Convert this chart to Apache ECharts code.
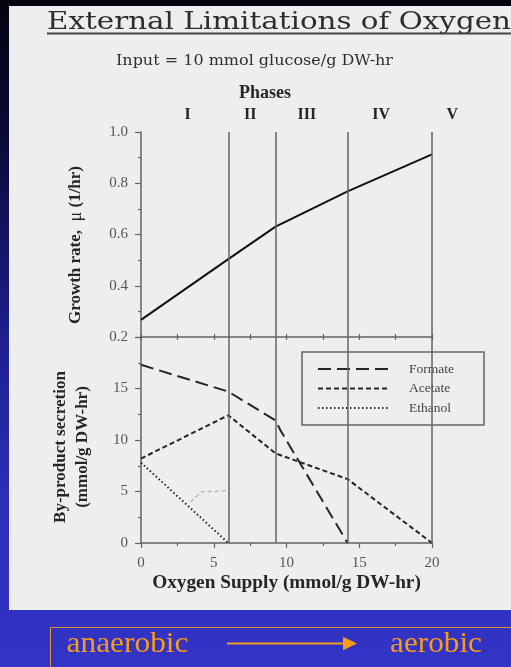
<!DOCTYPE html>
<html>
<head>
<meta charset="utf-8">
<script src="https://cdn.jsdelivr.net/npm/echarts@6/dist/echarts.min.js"></script>
<style>
  html, body { margin: 0; padding: 0; overflow: hidden; background: #3232c4; }
  #chart {
    width: 511px; height: 667px;
    background: linear-gradient(180deg, #03030e 0%, #0b0b3a 22%, #1e1e8c 50%, #2e2eb8 75%, #3333c6 100%);
  }
</style>
</head>
<body>
<div id="chart"></div>
<script>
// Oxygen supply (mmol/g DW-hr) at which each curve changes slope
const growthX = [0, 6, 9.25, 14.2, 20];
const growthRate = [0.267, 0.504, 0.631, 0.768, 0.913];

const formateX = [0, 6, 9.25, 9.6, 14.2];
const formateY = [17.3, 14.7, 11.9, 10.9, 0];

const acetateX = [0, 6, 9.25, 14.2, 20];
const acetateY = [8.2, 12.4, 8.7, 6.2, 0];

const ethanolX = [0, 6];
const ethanolY = [7.8, 0];

// faint stray stroke near phase I
const traceX = [3.4, 4.2, 5.0, 5.9];
const traceY = [4.0, 5.0, 5.0, 5.1];

// phase boundaries and the numerals written above each phase
const phaseBounds = [6, 9.25, 14.2, 20];
const phaseNames = ['I', 'II', 'III', 'IV', 'V'];
const phaseLabelAt = [3.2, 7.5, 11.4, 16.5, 21.4];

const growthTicks = [0.2, 0.4, 0.6, 0.8, 1.0];

const FONT = "'Liberation Serif', 'Times New Roman', serif";
const HEAD_FONT = "'DejaVu Serif', 'Liberation Serif', serif";
const INK = '#262626';
const AXIS = '#636363';
const LABEL = '#555';
const ORANGE = '#f59c1a';

const pairs = (xs, ys) => xs.map((x, i) => [x, ys[i]]);

const measureCtx = document.createElement('canvas').getContext('2d');
function stretchTo(text, font, width) {
  measureCtx.font = font;
  return width / measureCtx.measureText(text).width;
}

const axisLineStyle = { color: AXIS, width: 1.5 };
const tickStyle = { color: AXIS, width: 1.2 };
const labelStyle = { fontFamily: FONT, fontSize: 15, color: LABEL };

const phaseLines = {
  silent: true,
  symbol: ['none', 'none'],
  label: { show: false },
  lineStyle: { color: AXIS, width: 1.5, type: 'solid' },
  emphasis: { disabled: true },
  data: phaseBounds.map(v => ({ xAxis: v }))
};

const chart = echarts.init(document.getElementById('chart'), null, { renderer: 'canvas' });

chart.setOption({
  animation: false,
  backgroundColor: 'transparent',
  grid: [
    { left: 141, right: 79, top: 132, height: 205, outerBoundsMode: 'none', containLabel: false },
    { left: 141, right: 79, top: 337, height: 206, outerBoundsMode: 'none', containLabel: false }
  ],
  xAxis: [
    {
      gridIndex: 0, type: 'value', min: 0, max: 20, interval: 2.5, position: 'bottom',
      axisLine: { show: true, onZero: false, lineStyle: axisLineStyle },
      axisTick: { show: true, inside: true, length: 3, lineStyle: tickStyle },
      axisLabel: { show: false },
      splitLine: { show: false }
    },
    {
      gridIndex: 1, type: 'value', min: 0, max: 20, interval: 5, position: 'bottom',
      axisLine: { show: true, onZero: false, lineStyle: axisLineStyle },
      axisTick: { show: true, length: 5, lineStyle: tickStyle },
      minorTick: { show: true, splitNumber: 2, length: 3, lineStyle: tickStyle },
      axisLabel: Object.assign({ margin: 13 }, labelStyle),
      splitLine: { show: false },
      minorSplitLine: { show: false },
      name: 'Oxygen Supply (mmol/g DW-hr)',
      nameLocation: 'middle',
      nameGap: 31,
      nameMoveOverlap: false,
      nameTextStyle: { fontFamily: FONT, fontWeight: 'bold', fontSize: 19.3, color: INK }
    },
    {
      gridIndex: 1, type: 'value', min: 0, max: 20, interval: 2.5, position: 'top',
      axisLine: { show: false, onZero: false },
      axisTick: { show: true, inside: true, length: 3, lineStyle: tickStyle },
      axisLabel: { show: false },
      splitLine: { show: false }
    }
  ],
  yAxis: [
    {
      gridIndex: 0, type: 'value', min: 0.2, max: 1.0, interval: 0.2,
      axisLine: { show: true, onZero: false, lineStyle: axisLineStyle },
      axisTick: { show: true, length: 6, lineStyle: tickStyle },
      minorTick: { show: true, splitNumber: 2, length: 3, lineStyle: tickStyle },
      axisLabel: Object.assign({
        margin: 13,
        formatter: v => {
          const t = growthTicks.find(g => Math.abs(g - v) < 1e-6);
          return t === undefined ? '' : t.toFixed(1);
        }
      }, labelStyle),
      splitLine: { show: false },
      minorSplitLine: { show: false },
      name: 'Growth rate,  {mu|\u03bc} (1/hr)',
      nameLocation: 'middle',
      nameRotate: 90,
      nameGap: 56,
      nameMoveOverlap: false,
      nameTextStyle: {
        fontFamily: FONT, fontWeight: 'bold', fontSize: 17, color: INK,
        padding: [0, 21, 0, 0],
        rich: { mu: { fontFamily: FONT, fontWeight: 'normal', fontSize: 18, color: INK } }
      }
    },
    {
      gridIndex: 1, type: 'value', min: 0, max: 20, interval: 5,
      axisLine: { show: true, onZero: false, lineStyle: axisLineStyle },
      axisTick: { show: true, length: 6, lineStyle: tickStyle },
      minorTick: { show: true, splitNumber: 2, length: 3, lineStyle: tickStyle },
      axisLabel: Object.assign({
        margin: 13,
        formatter: v => (v >= 20 ? '' : String(v))
      }, labelStyle),
      splitLine: { show: false },
      minorSplitLine: { show: false },
      name: 'By-product secretion\n(mmol/g DW-hr)',
      nameLocation: 'middle',
      nameRotate: 90,
      nameGap: 47,
      nameMoveOverlap: false,
      nameTextStyle: {
        fontFamily: FONT, fontWeight: 'bold', fontSize: 17, color: INK,
        lineHeight: 22, padding: [0, 14, 0, 0]
      }
    }
  ],
  legend: {
    data: ['Formate', 'Acetate', 'Ethanol'],
    orient: 'vertical',
    left: 302,
    top: 352,
    itemWidth: 70,
    itemHeight: 14,
    itemGap: 5.5,
    padding: [10, 30, 10, 15],
    borderColor: '#666',
    borderWidth: 1.5,
    selectedMode: false,
    itemStyle: { opacity: 0 },
    lineStyle: { opacity: 1 },
    textStyle: { fontFamily: FONT, fontSize: 13.5, color: '#444', padding: [0, 0, 0, 16] }
  },
  series: [
    {
      name: 'Growth rate', type: 'line', xAxisIndex: 0, yAxisIndex: 0,
      data: pairs(growthX, growthRate),
      symbol: 'none',
      itemStyle: { color: '#111' },
      lineStyle: { color: '#111', width: 2 },
      markLine: phaseLines
    },
    {
      name: 'Formate', type: 'line', xAxisIndex: 1, yAxisIndex: 1,
      data: pairs(formateX, formateY),
      symbol: 'none',
      itemStyle: { color: INK },
      lineStyle: { color: INK, width: 2, type: [13, 6] },
      markLine: phaseLines
    },
    {
      name: 'Acetate', type: 'line', xAxisIndex: 1, yAxisIndex: 1,
      data: pairs(acetateX, acetateY),
      symbol: 'none',
      itemStyle: { color: INK },
      lineStyle: { color: INK, width: 2, type: [5, 3] }
    },
    {
      name: 'Ethanol', type: 'line', xAxisIndex: 1, yAxisIndex: 1,
      data: pairs(ethanolX, ethanolY),
      symbol: 'none',
      itemStyle: { color: INK },
      lineStyle: { color: INK, width: 2, type: [1.5, 2.5] }
    },
    {
      name: 'trace', type: 'line', xAxisIndex: 1, yAxisIndex: 1,
      data: pairs(traceX, traceY),
      symbol: 'none', silent: true, z: 1,
      itemStyle: { color: '#b8b8b8' },
      lineStyle: { color: '#b8b8b8', width: 1.5, type: [4, 3] }
    }
  ]
});

// Headings, phase numerals and the anaerobic -> aerobic banner
const titleFont = `25px ${HEAD_FONT}`;
const subFont = `15px ${HEAD_FONT}`;
const bannerFont = `30px ${FONT}`;

const graphics = [
  { id: 'panel', type: 'rect', z: -100, shape: { x: 9, y: 6, width: 502, height: 604 }, style: { fill: '#eeeeee' } },
  {
    id: 'title', type: 'text', x: 47, y: 22.5,
    scaleX: stretchTo('External Limitations of Oxygen', titleFont, 464),
    style: { text: 'External Limitations of Oxygen', font: titleFont, fill: '#2e2e2e', align: 'left', verticalAlign: 'middle' }
  },
  { id: 'underline', type: 'line', shape: { x1: 47, y1: 33.5, x2: 511, y2: 33.5 }, style: { stroke: '#444', lineWidth: 2 } },
  {
    id: 'subtitle', type: 'text', x: 116, y: 61,
    scaleX: stretchTo('Input = 10 mmol glucose/g DW-hr', subFont, 277),
    style: { text: 'Input = 10 mmol glucose/g DW-hr', font: subFont, fill: '#2e2e2e', align: 'left', verticalAlign: 'middle' }
  },
  {
    id: 'phases', type: 'text', x: 265, y: 93,
    style: { text: 'Phases', font: `bold 18px ${FONT}`, fill: INK, align: 'center', verticalAlign: 'middle' }
  },
  { id: 'banner', type: 'rect', shape: { x: 50.5, y: 627.5, width: 480, height: 60 }, style: { fill: 'none', stroke: '#e0942c', lineWidth: 1 } },
  {
    id: 'anaerobic', type: 'text', x: 66.5, y: 644,
    scaleX: stretchTo('anaerobic', bannerFont, 122),
    style: { text: 'anaerobic', font: bannerFont, fill: ORANGE, align: 'left', verticalAlign: 'middle' }
  },
  { id: 'arrowShaft', type: 'line', shape: { x1: 227, y1: 643.5, x2: 346, y2: 643.5 }, style: { stroke: ORANGE, lineWidth: 2 } },
  { id: 'arrowHead', type: 'polygon', shape: { points: [[343, 636.8], [357, 643.5], [343, 650.2]] }, style: { fill: ORANGE } },
  {
    id: 'aerobic', type: 'text', x: 390, y: 644,
    scaleX: stretchTo('aerobic', bannerFont, 92),
    style: { text: 'aerobic', font: bannerFont, fill: ORANGE, align: 'left', verticalAlign: 'middle' }
  }
];

phaseNames.forEach((name, i) => {
  const px = chart.convertToPixel({ xAxisIndex: 0 }, phaseLabelAt[i]);
  graphics.push({
    id: 'phase-' + name, type: 'text', x: px, y: 115,
    style: { text: name, font: `bold 16px ${FONT}`, fill: INK, align: 'center', verticalAlign: 'middle' }
  });
});

chart.setOption({ graphic: graphics });
</script>
</body>
</html>
